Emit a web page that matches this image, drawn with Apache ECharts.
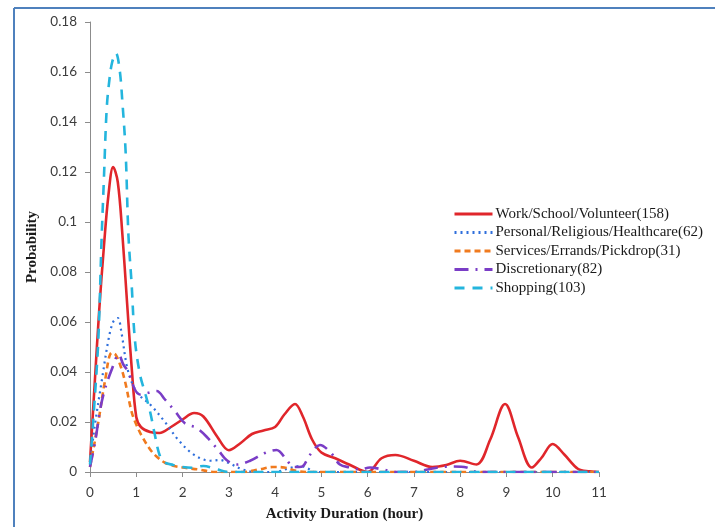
<!DOCTYPE html>
<html>
<head>
<meta charset="utf-8">
<script src="https://cdn.jsdelivr.net/npm/echarts@6/dist/echarts.min.js"></script>
<style>
  html, body { margin: 0; padding: 0; background: #ffffff; }
  #chart { width: 715px; height: 527px; }
</style>
</head>
<body>
<div id="chart"></div>
<script>
// Probability of activity duration by activity purpose (sample sizes in brackets)
const seriesNames = [
  'Work/School/Volunteer(158)',
  'Personal/Religious/Healthcare(62)',
  'Services/Errands/Pickdrop(31)',
  'Discretionary(82)',
  'Shopping(103)'
];

const workHours = [0, 0.1, 0.2, 0.3, 0.4, 0.5, 0.6, 0.7, 0.8, 0.9, 1.0, 1.1, 1.3, 1.5, 1.75, 2.0, 2.25, 2.45, 2.75, 3.0, 3.25, 3.5, 3.75, 4.0, 4.2, 4.43, 4.6, 4.8, 5.0, 5.3, 5.6, 6.0, 6.3, 6.6, 7.0, 7.4, 7.7, 8.0, 8.35, 8.65, 8.97, 9.25, 9.55, 9.75, 10.0, 10.25, 10.55, 10.8, 11];
const workProb  = [0.004, 0.035, 0.065, 0.09, 0.111, 0.122, 0.116, 0.095, 0.068, 0.042, 0.022, 0.018, 0.016, 0.0156, 0.018, 0.021, 0.0236, 0.0222, 0.0141, 0.0087, 0.0115, 0.0152, 0.0166, 0.018, 0.023, 0.0272, 0.0222, 0.013, 0.0078, 0.0055, 0.003, 0.0, 0.0055, 0.0068, 0.0045, 0.002, 0.0028, 0.0045, 0.003, 0.013, 0.0272, 0.014, 0.0018, 0.0055, 0.0112, 0.007, 0.0012, 0.0003, 0];

const personalHours = [0, 0.1, 0.25, 0.4, 0.5, 0.6, 0.68, 0.79, 0.9, 1.05, 1.3, 1.62, 1.9, 2.2, 2.45, 2.6, 2.8, 3.0, 3.3, 3.6, 4.0, 4.3, 4.55, 4.7, 4.85, 11];
const personalProb  = [0.003, 0.018, 0.036, 0.053, 0.06, 0.0616, 0.0557, 0.043, 0.036, 0.031, 0.027, 0.020, 0.013, 0.0075, 0.005, 0.0045, 0.0048, 0.0036, 0.001, 0, 0, 0.0015, 0.0024, 0.0015, 0, 0];

const servicesHours = [0, 0.04, 0.18, 0.32, 0.47, 0.55, 0.65, 0.76, 0.9, 1.0, 1.12, 1.3, 1.45, 1.62, 1.8, 2.0, 2.35, 2.7, 3.3, 3.65, 3.95, 4.2, 4.45, 4.7, 11];
const servicesProb  = [0.002, 0.006, 0.02, 0.036, 0.0477, 0.047, 0.043, 0.036, 0.024, 0.019, 0.0144, 0.009, 0.006, 0.0037, 0.0025, 0.0018, 0.001, 0, 0, 0.001, 0.002, 0.0018, 0.0005, 0, 0];

const discretionaryHours = [0, 0.11, 0.22, 0.32, 0.47, 0.62, 0.72, 0.83, 0.97, 1.08, 1.26, 1.44, 1.62, 1.85, 2.05, 2.3, 2.52, 2.77, 2.95, 3.17, 3.46, 3.78, 4.03, 4.25, 4.4, 4.57, 4.75, 4.97, 5.2, 5.4, 5.62, 5.84, 6.05, 6.33, 6.6, 7.0, 7.3, 7.6, 7.85, 8.14, 8.36, 11];
const discretionaryProb  = [0.002, 0.012, 0.025, 0.033, 0.041, 0.047, 0.043, 0.040, 0.033, 0.031, 0.0317, 0.0324, 0.029, 0.024, 0.0195, 0.0176, 0.0141, 0.0088, 0.0048, 0.003, 0.0045, 0.0076, 0.0088, 0.0048, 0.002, 0.0021, 0.0068, 0.0108, 0.0078, 0.003, 0.0018, 0.001, 0.0018, 0.001, 0, 0, 0.001, 0.002, 0.0022, 0.0018, 0, 0];

const shoppingHours = [0, 0.09, 0.18, 0.25, 0.3, 0.36, 0.42, 0.48, 0.56, 0.64, 0.7, 0.77, 0.83, 0.9, 0.97, 1.08, 1.2, 1.3, 1.4, 1.5, 1.6, 1.8, 2.0, 2.2, 2.45, 2.75, 3.0, 11];
const shoppingProb  = [0.003, 0.026, 0.053, 0.093, 0.117, 0.145, 0.157, 0.164, 0.1675, 0.161, 0.148, 0.128, 0.095, 0.075, 0.053, 0.039, 0.031, 0.024, 0.015, 0.007, 0.004, 0.0028, 0.002, 0.0017, 0.0024, 0.001, 0, 0];

const xTicks = [0, 1, 2, 3, 4, 5, 6, 7, 8, 9, 10, 11];
const yTickLabels = ['0', '0.02', '0.04', '0.06', '0.08', '0.1', '0.12', '0.14', '0.16', '0.18'];

const pairs = (xs, ys) => xs.map((x, i) => [x, ys[i]]);

const styles = [
  { color: '#e0262b', width: 2.6, type: 'solid' },
  { color: '#2f6fdc', width: 2.2, type: [2, 4] },
  { color: '#f07a1e', width: 2.6, type: [6, 4] },
  { color: '#7a3dc6', width: 2.6, type: [14, 7, 2, 7] },
  { color: '#24b5dd', width: 2.6, type: [10, 8] }
];
const datasets = [
  pairs(workHours, workProb),
  pairs(personalHours, personalProb),
  pairs(servicesHours, servicesProb),
  pairs(discretionaryHours, discretionaryProb),
  pairs(shoppingHours, shoppingProb)
];

const chart = echarts.init(document.getElementById('chart'), null, { renderer: 'canvas' });

chart.setOption({
  animation: false,
  backgroundColor: '#ffffff',
  graphic: [
    { type: 'line', shape: { x1: 14, y1: 8, x2: 715, y2: 8 }, style: { stroke: '#4f81bd', lineWidth: 2 } },
    { type: 'line', shape: { x1: 14, y1: 8, x2: 14, y2: 527 }, style: { stroke: '#4f81bd', lineWidth: 2 } }
  ],
  grid: { left: 90, right: 116, top: 22, bottom: 55, containLabel: false, outerBoundsMode: 'none' },
  legend: {
    orient: 'vertical',
    left: 448,
    top: 201,
    itemWidth: 38,
    itemHeight: 14,
    itemGap: 2.5,
    data: seriesNames,
    itemStyle: { opacity: 0 },
    lineStyle: { width: 3 },
    textStyle: { fontFamily: 'Liberation Serif', fontSize: 15, lineHeight: 16, color: '#1a1a1a', padding: [0, 0, 0, -2] }
  },
  xAxis: {
    type: 'value',
    min: 0,
    max: 11,
    interval: 1,
    name: 'Activity Duration (hour)',
    nameLocation: 'middle',
    nameGap: 35,
    nameTextStyle: { fontFamily: 'Liberation Serif', fontWeight: 'bold', fontSize: 15, color: '#1a1a1a' },
    axisLine: { lineStyle: { color: '#8c8c8c', width: 1 } },
    axisTick: { show: true, length: 5, inside: false, lineStyle: { color: '#8c8c8c' } },
    axisLabel: {
      fontFamily: 'Lato', fontSize: 13.5, color: '#3c3c3c', margin: 14,
      formatter: v => xTicks.includes(v) ? String(v) : ''
    },
    splitLine: { show: false }
  },
  yAxis: {
    type: 'value',
    min: 0,
    max: 0.18,
    interval: 0.02,
    name: 'Probability',
    nameLocation: 'middle',
    nameGap: 40,
    nameRotate: 90,
    nameTextStyle: { fontFamily: 'Liberation Serif', fontWeight: 'bold', fontSize: 15, color: '#1a1a1a' },
    axisLine: { show: true, lineStyle: { color: '#8c8c8c', width: 1 } },
    axisTick: { show: true, length: 5, lineStyle: { color: '#8c8c8c' } },
    axisLabel: {
      fontFamily: 'Lato', fontSize: 13.5, color: '#3c3c3c', margin: 13,
      formatter: v => yTickLabels[Math.round(v / 0.02)]
    },
    splitLine: { show: false }
  },
  series: seriesNames.map((name, i) => ({
    name,
    type: 'line',
    data: datasets[i],
    smooth: 0.35,
    showSymbol: false,
    symbol: 'none',
    lineStyle: { color: styles[i].color, width: styles[i].width, type: styles[i].type, cap: 'butt' },
    itemStyle: { color: styles[i].color },
    z: 2 + i
  }))
});
</script>
</body>
</html>
